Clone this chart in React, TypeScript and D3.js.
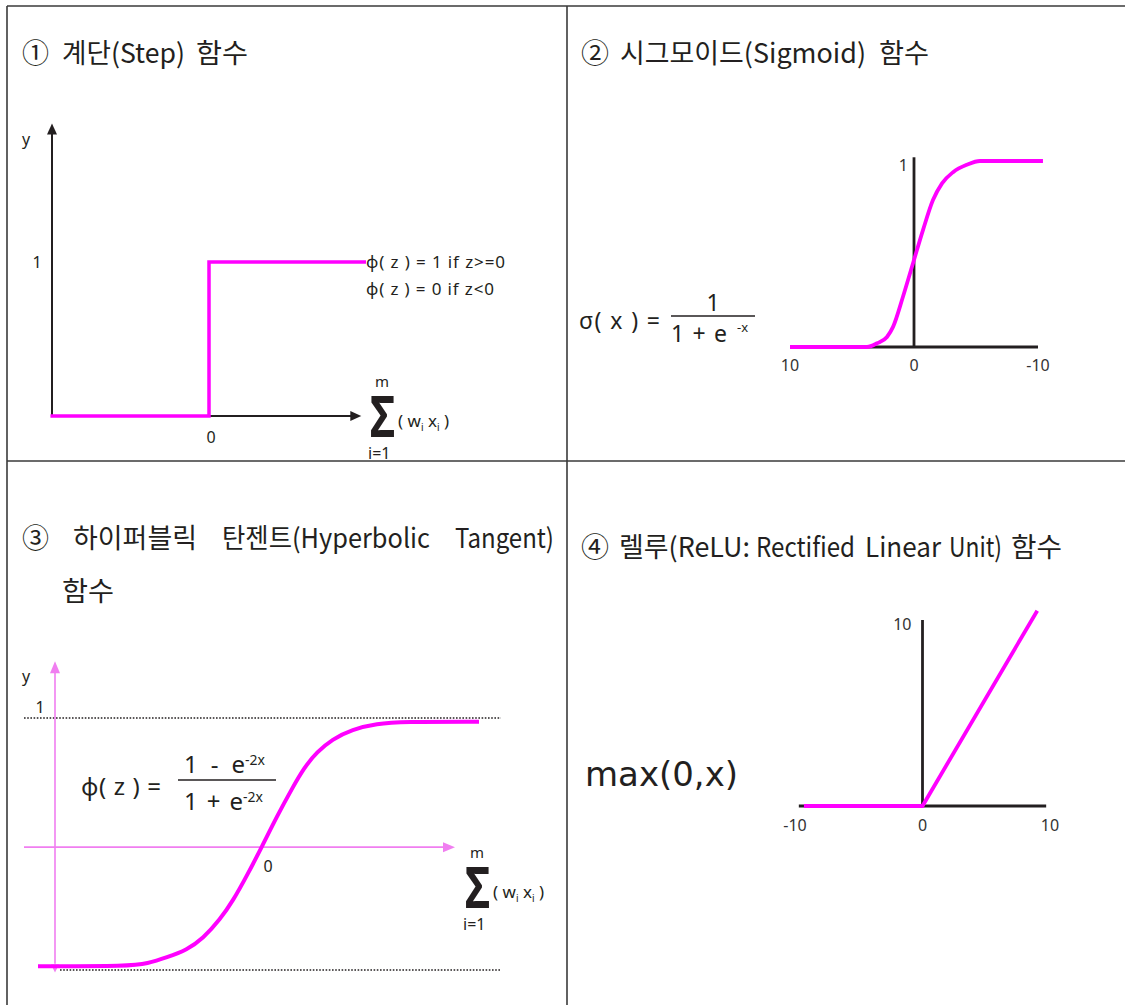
import React from "react";
import * as d3 from "d3";

const MAGENTA = "#ff00ff";
const PINK_AXIS = "#f07ef0";
const INK = "#231f20";
const GRID = "#3a3a3a";
const KR = "'Noto Sans CJK KR', 'Noto Sans', sans-serif";
const LATIN = "'Noto Sans', 'DejaVu Sans', sans-serif";

// ① step function
const stepPoints = [
  { x: -1.01, y: 0 },
  { x: 0, y: 0 },
  { x: 0, y: 1 },
  { x: 1, y: 1 },
];
const stepRules = ["ϕ( z ) = 1 if z>=0", "ϕ( z ) = 0 if z<0"];

// ② sigmoid (axis printed from 10 on the left to -10 on the right)
const sigmoidPoints = [
  { x: 10, y: 0 },
  { x: 3.79, y: 0 },
  { x: 2.98, y: 0.02 },
  { x: 2.18, y: 0.054 },
  { x: 1.69, y: 0.108 },
  { x: 0.89, y: 0.27 },
  { x: 0.08, y: 0.45 },
  { x: -0.73, y: 0.63 },
  { x: -1.53, y: 0.79 },
  { x: -2.26, y: 0.88 },
  { x: -3.15, y: 0.94 },
  { x: -4.27, y: 0.98 },
  { x: -5.32, y: 1 },
  { x: -10.4, y: 1 },
];
const sigmoidTicks = [10, 0, -10];

// ③ hyperbolic tangent
const tanhPoints = [
  { x: -4.48, y: -0.97 },
  { x: -2.64, y: -0.97 },
  { x: -2.3, y: -0.95 },
  { x: -1.9, y: -0.9 },
  { x: -1.5, y: -0.84 },
  { x: -1.18, y: -0.75 },
  { x: -0.84, y: -0.6 },
  { x: -0.58, y: -0.45 },
  { x: -0.3, y: -0.25 },
  { x: 0, y: -0.02 },
  { x: 0.3, y: 0.22 },
  { x: 0.6, y: 0.44 },
  { x: 0.85, y: 0.61 },
  { x: 1.1, y: 0.73 },
  { x: 1.4, y: 0.83 },
  { x: 1.8, y: 0.91 },
  { x: 2.3, y: 0.955 },
  { x: 2.8, y: 0.97 },
  { x: 4.34, y: 0.97 },
];

// ④ ReLU
const reluPoints = [
  { x: -9.3, y: 0 },
  { x: 0, y: 0 },
  { x: 9.0, y: 10.5 },
];
const reluXTicks = [-10, 0, 10];
const reluYTick = 10;

// title words: [text, left x, width]
const title1 = [["①", 22, 27], ["계단(Step)", 62, 123], ["함수", 196, 52]];
const title2 = [["②", 581, 28], ["시그모이드(Sigmoid)", 620, 246], ["함수", 879, 50]];
const title3 = [["③", 22, 27], ["하이퍼블릭", 73, 124], ["탄젠트(Hyperbolic", 222, 208], ["Tangent)", 455, 99]];
const title3b = [["함수", 62, 52]];
const title4 = [
  ["④", 581, 28],
  ["렐루(ReLU:", 619, 131],
  ["Rectified", 756, 99],
  ["Linear", 865, 76],
  ["Unit)", 949, 53],
  ["함수", 1011, 51],
];

// scales
const x1 = d3.scaleLinear().domain([-1, 1]).range([52, 366]);
const y1 = d3.scaleLinear().domain([0, 1]).range([416, 262]);
const x2 = d3.scaleLinear().domain([10, -10]).range([790, 1038]);
const y2 = d3.scaleLinear().domain([0, 1]).range([347, 161]);
const x3 = d3.scaleLinear().domain([-4.5, 4.5]).range([37, 487]);
const y3 = d3.scaleLinear().domain([-1, 1]).range([970, 718]);
const x4 = d3.scaleLinear().domain([-10, 10]).range([795, 1050]);
const y4 = d3.scaleLinear().domain([0, 10]).range([806, 620]);

type P = { x: number; y: number };
const mkLine = (xs: any, ys: any, curve: any = d3.curveLinear) =>
  d3.line<P>().x((d) => xs(d.x)).y((d) => ys(d.y)).curve(curve);

function Arrow({ x, y, dir, len = 11, half = 5, fill = INK }: any) {
  let pts: number[][] = [];
  if (dir === "up") pts = [[x, y], [x - half, y + len], [x + half, y + len]];
  if (dir === "down") pts = [[x, y], [x - half, y - len], [x + half, y - len]];
  if (dir === "right") pts = [[x, y], [x - len, y - half], [x - len, y + half]];
  return <polygon points={pts.map((p) => p.join(",")).join(" ")} fill={fill} />;
}

function SumLabel({ x, y }: { x: number; y: number }) {
  return (
    <g transform={`translate(${x},${y})`} fill={INK} fontFamily={LATIN}>
      <text x={12} y={-50} fontSize={15} textAnchor="middle">m</text>
      <text x={0} y={0} fontSize={36} fontWeight={700} transform="scale(1.2,1.6)">Σ</text>
      <text x={28} y={-10} fontSize={17}>
        ( w<tspan fontSize={10} dy={4}>i</tspan>
        <tspan dy={-4}> x</tspan>
        <tspan fontSize={10} dy={4}>i</tspan>
        <tspan dy={-4}> )</tspan>
      </text>
      <text x={-2} y={22} fontSize={16}>i=1</text>
    </g>
  );
}

function Title({ words, y }: { words: any[]; y: number }) {
  return (
    <g fontFamily={KR} fontSize={27} fill={INK}>
      {words.map(([t, x, w]) => (
        <text key={t} x={x} y={y} textLength={w} lengthAdjust="spacingAndGlyphs">
          {t}
        </text>
      ))}
    </g>
  );
}

export default function App() {
  const stepPath = mkLine(x1, y1)(stepPoints) || "";
  const sigPath = mkLine(x2, y2, d3.curveMonotoneX)(sigmoidPoints) || "";
  const tanhPath = mkLine(x3, y3, d3.curveBasis)(tanhPoints) || "";
  const reluPath = mkLine(x4, y4)(reluPoints) || "";

  return (
    <svg
      width={1125}
      height={1005}
      style={{ position: "absolute", left: 0, top: 0, display: "block", background: "#fff" }}
    >
      {/* table grid */}
      <g stroke={GRID} strokeWidth={1.6}>
        <line x1={7} y1={6} x2={1125} y2={6} />
        <line x1={7} y1={6} x2={7} y2={1005} />
        <line x1={567} y1={6} x2={567} y2={1005} />
        <line x1={7} y1={461} x2={1125} y2={461} />
      </g>

      {/* titles */}
      <Title words={title1} y={63} />
      <Title words={title2} y={63} />
      <Title words={title3} y={548} />
      <Title words={title3b} y={601} />
      <Title words={title4} y={557} />

      {/* ① step */}
      <g>
        <line x1={x1(-1)} y1={y1(0)} x2={x1(-1)} y2={y1(1.85)} stroke={INK} strokeWidth={2} />
        <Arrow x={x1(-1)} y={y1(1.9)} dir="up" />
        <line x1={x1(-1)} y1={y1(0)} x2={x1(0.93)} y2={y1(0)} stroke={INK} strokeWidth={2} />
        <Arrow x={x1(0.97)} y={y1(0)} dir="right" />
        <path d={stepPath} fill="none" stroke={MAGENTA} strokeWidth={3.5} />
        <g fontFamily={LATIN} fontSize={16} fill={INK}>
          <text x={22} y={145}>y</text>
          <text x={37} y={268} textAnchor="middle">1</text>
          <text x={x1(0) + 2} y={443} textAnchor="middle">0</text>
          {stepRules.map((r, i) => (
            <text
              key={r}
              x={x1(1)}
              y={y1(1) + 6 + i * 27}
              fontSize={17}
              textLength={i === 0 ? 139 : 128}
              lengthAdjust="spacing"
            >
              {r}
            </text>
          ))}
        </g>
        <SumLabel x={370} y={437} />
      </g>

      {/* ② sigmoid */}
      <g>
        <line x1={x2(0)} y1={y2(0)} x2={x2(0)} y2={y2(1.02)} stroke={INK} strokeWidth={2.8} />
        <line x1={x2(10)} y1={y2(0)} x2={x2(-10)} y2={y2(0)} stroke={INK} strokeWidth={2.8} />
        <path d={sigPath} fill="none" stroke={MAGENTA} strokeWidth={3.8} />
        <g fontFamily={LATIN} fontSize={16} fill="#333" textAnchor="middle">
          {sigmoidTicks.map((t) => (
            <text key={t} x={x2(t)} y={371}>{t}</text>
          ))}
          <text x={x2(0) - 6} y={171} textAnchor="end">1</text>
        </g>
        <g fontFamily={LATIN} fontSize={23} fill={INK}>
          <text x={579} y={329} textLength={81} lengthAdjust="spacing">σ( x ) =</text>
          <text x={713} y={311} textAnchor="middle">1</text>
          <line x1={671} y1={316} x2={755} y2={316} stroke={INK} strokeWidth={1.6} />
          <text x={671} y={342} textLength={56} lengthAdjust="spacing">1 + e</text>
          <text x={737} y={332} fontSize={13}>-x</text>
        </g>
      </g>

      {/* ③ tanh */}
      <g>
        <line x1={x3(-4.76)} y1={y3(1)} x2={x3(4.78)} y2={y3(1)} stroke={INK} strokeWidth={1.6} strokeDasharray="1.6 1.6" />
        <line x1={x3(-4.04)} y1={y3(-1)} x2={x3(4.78)} y2={y3(-1)} stroke={INK} strokeWidth={1.6} strokeDasharray="1.6 1.6" />
        <line x1={x3(-4.14)} y1={y3(-0.95)} x2={x3(-4.14)} y2={y3(1.38)} stroke={PINK_AXIS} strokeWidth={1.6} />
        <Arrow x={x3(-4.14)} y={y3(1.45)} dir="up" len={12} half={5} fill={PINK_AXIS} />
        <Arrow x={x3(-4.14)} y={y3(-1.02)} dir="down" len={8} half={4} fill={PINK_AXIS} />
        <line x1={x3(-4.76)} y1={y3(-0.025)} x2={x3(3.7)} y2={y3(-0.025)} stroke={PINK_AXIS} strokeWidth={1.6} />
        <Arrow x={x3(3.86)} y={y3(-0.025)} dir="right" len={12} half={5} fill={PINK_AXIS} />
        <path d={tanhPath} fill="none" stroke={MAGENTA} strokeWidth={4} />
        <g fontFamily={LATIN} fontSize={16} fill={INK}>
          <text x={22} y={682}>y</text>
          <text x={40} y={713} textAnchor="middle">1</text>
          <text x={x3(0) + 6} y={872} textAnchor="middle">0</text>
        </g>
        <g fontFamily={LATIN} fontSize={24} fill={INK}>
          <text x={81} y={795} textLength={80} lengthAdjust="spacing">ϕ( z ) =</text>
          <text x={184} y={773} textLength={61} lengthAdjust="spacing">1 -  e</text>
          <text x={245} y={765} fontSize={14}>-2x</text>
          <line x1={178} y1={780} x2={276} y2={780} stroke={INK} strokeWidth={1.6} />
          <text x={184} y={810} textLength={59} lengthAdjust="spacing">1 + e</text>
          <text x={243} y={802} fontSize={14}>-2x</text>
        </g>
        <SumLabel x={465} y={908} />
      </g>

      {/* ④ ReLU */}
      <g>
        <line x1={x4(0)} y1={y4(0)} x2={x4(0)} y2={y4(10)} stroke={INK} strokeWidth={2.8} />
        <line x1={x4(-9.7)} y1={y4(0)} x2={x4(9.7)} y2={y4(0)} stroke={INK} strokeWidth={2.8} />
        <path d={reluPath} fill="none" stroke={MAGENTA} strokeWidth={3.8} />
        <g fontFamily={LATIN} fontSize={16} fill="#333" textAnchor="middle">
          {reluXTicks.map((t) => (
            <text key={t} x={x4(t)} y={831}>{t}</text>
          ))}
          <text x={x4(0) - 11} y={y4(reluYTick) + 10} textAnchor="end">{reluYTick}</text>
        </g>
        <text
          x={585}
          y={786}
          fontFamily="'DejaVu Sans', sans-serif"
          fontSize={33}
          fill={INK}
          textLength={153}
          lengthAdjust="spacingAndGlyphs"
        >
          max(0,x)
        </text>
      </g>
    </svg>
  );
}
